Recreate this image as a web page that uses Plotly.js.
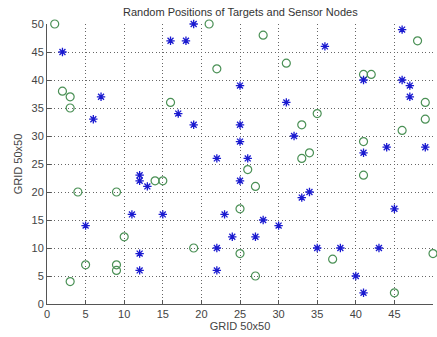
<!DOCTYPE html>
<html>
<head>
<meta charset="utf-8">
<script src="https://cdn.plot.ly/plotly-3.0.1.min.js"></script>
<style>html,body{margin:0;padding:0;background:#fff;}#chart{width:437px;height:337px;}</style>
</head>
<body>
<div id="chart"></div>
<script>
// Sensor nodes (blue stars)
var sensorX = [2, 7, 6, 16, 18, 19, 17, 19, 25, 25, 25, 22, 26, 12, 12, 13, 25, 11, 15, 23, 5, 24, 27, 28, 30, 12, 22, 12, 22, 35, 38, 43, 40, 41, 45, 34, 33, 32, 31, 36, 46, 41, 46, 47, 47, 44, 49, 41];
var sensorY = [45, 37, 33, 47, 47, 50, 34, 32, 39, 32, 29, 26, 26, 23, 22, 21, 22, 16, 16, 16, 14, 12, 12, 15, 14, 9, 10, 6, 6, 10, 10, 10, 5, 2, 17, 20, 19, 30, 36, 46, 49, 40, 40, 39, 37, 28, 28, 27];
// Targets (green circles)
var targetX = [1, 21, 28, 22, 31, 48, 41, 42, 2, 3, 3, 16, 49, 35, 33, 49, 46, 41, 34, 33, 26, 27, 41, 14, 15, 4, 9, 25, 10, 19, 25, 50, 37, 5, 9, 9, 3, 27, 45];
var targetY = [50, 50, 48, 42, 43, 47, 41, 41, 38, 37, 35, 36, 36, 34, 32, 33, 31, 29, 27, 26, 24, 21, 23, 22, 22, 20, 20, 17, 12, 10, 9, 9, 8, 7, 7, 6, 4, 5, 2];
var tickVals = [0, 5, 10, 15, 20, 25, 30, 35, 40, 45, 50];

var traces = [
  {
    x: targetX, y: targetY, type: 'scatter', mode: 'markers', name: 'Targets',
    cliponaxis: false,
    marker: {symbol: 'circle-open', size: 8, color: '#4a9055', line: {width: 1.2, color: '#4a9055'}}
  },
  {
    x: sensorX, y: sensorY, type: 'scatter', mode: 'markers', name: 'Sensor Nodes',
    cliponaxis: false,
    marker: {symbol: 'asterisk-open', size: 7, color: '#1a1ad0', line: {width: 1.3, color: '#1a1ad0'}}
  }
];

var axisCommon = {
  range: [0, 50], tickvals: tickVals, ticktext: tickVals.map(String),
  showgrid: true, gridcolor: '#666', griddash: '1px,2.5px', gridwidth: 1,
  zeroline: false, showline: true, linecolor: '#555', linewidth: 1,
  ticks: 'inside', ticklen: 4, tickcolor: '#555',
  tickfont: {family: 'Liberation Sans, Arial, sans-serif', size: 11, color: '#444'}
};

var layout = {
  width: 437, height: 337,
  margin: {l: 47, r: 4, t: 24, b: 33},
  paper_bgcolor: '#fff', plot_bgcolor: '#fff',
  showlegend: false,
  title: {text: 'Random Positions of Targets and Sensor Nodes', x: 0.55, xanchor: 'center', y: 0.975, yanchor: 'top',
          font: {family: 'Liberation Sans, Arial, sans-serif', size: 11, color: '#333'}},
  xaxis: Object.assign({}, axisCommon, {
    title: {text: 'GRID 50x50', standoff: 2, font: {family: 'Liberation Sans, Arial, sans-serif', size: 11, color: '#444'}}
  }),
  yaxis: Object.assign({}, axisCommon, {
    title: {text: 'GRID 50x50', standoff: 6, font: {family: 'Liberation Sans, Arial, sans-serif', size: 11, color: '#444'}}
  })
};

Plotly.newPlot('chart', traces, layout, {displayModeBar: false, staticPlot: true});
</script>
</body>
</html>
